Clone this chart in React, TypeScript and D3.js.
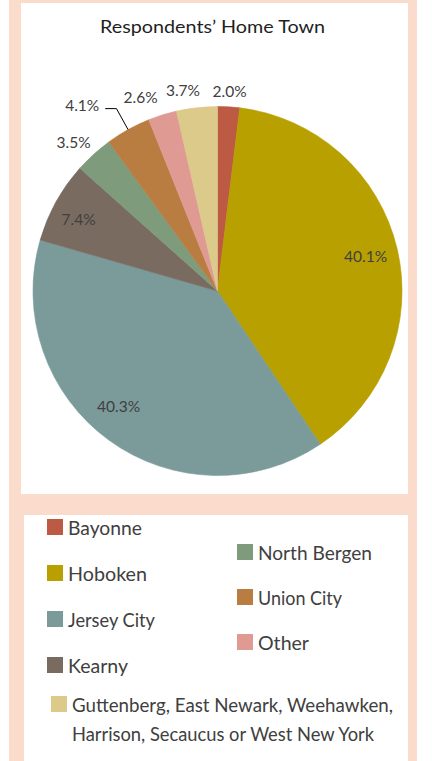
import React from "react";
import * as d3 from "d3";

const categories = [
  "Bayonne",
  "Hoboken",
  "Jersey City",
  "Kearny",
  "North Bergen",
  "Union City",
  "Other",
  "Guttenberg, East Newark, Weehawken, Harrison, Secaucus or West New York",
];
const values = [2.0, 40.1, 40.3, 7.4, 3.5, 4.1, 2.6, 3.7];
const valueLabels = ["2.0%", "40.1%", "40.3%", "7.4%", "3.5%", "4.1%", "2.6%", "3.7%"];
const colors = ["#BD5A43", "#B7A000", "#7B9A9A", "#7A6B61", "#7E9B7B", "#B97D41", "#DF9B93", "#DBCA89"];
const title = "Respondents\u2019 Home Town";

// label placement: radius factor, angle tweak (deg), leader line flag
const labelPlacement = [
  { rf: 1.084, da: 0, leader: false },
  { rf: 0.825, da: 0, leader: false },
  { rf: 0.822, da: 4.6, leader: false },
  { rf: 0.848, da: -1.5, leader: false },
  { rf: 1.123, da: -1.8, leader: false },
  { rf: 1.245, da: -7.1, leader: true },
  { rf: 1.129, da: -4.3, leader: false },
  { rf: 1.108, da: -3.3, leader: false },
];

// legend layout: position, text lines & widths
const legendLayout = [
  { x: 47, y: 519, lines: ["Bayonne"], widths: [74] },
  { x: 47, y: 565, lines: ["Hoboken"], widths: [79] },
  { x: 47, y: 611, lines: ["Jersey City"], widths: [87] },
  { x: 47, y: 657, lines: ["Kearny"], widths: [60] },
  { x: 237, y: 544, lines: ["North Bergen"], widths: [114] },
  { x: 237, y: 589, lines: ["Union City"], widths: [84] },
  { x: 237, y: 634, lines: ["Other"], widths: [51] },
  {
    x: 51,
    y: 696,
    lines: ["Guttenberg, East Newark, Weehawken,", "Harrison, Secaucus or West New York"],
    widths: [321, 302],
  },
];

const W = 432;
const H = 761;
const PEACH = "#FADBCC";
const cx = 217.5;
const cy = 291;
const R = 184.5;
const FONT = "Lato, 'Open Sans', sans-serif";

export default function App() {
  const pie = d3
    .pie<number>()
    .sort(null)
    .value((d) => d)
    .startAngle(0)
    .endAngle(2 * Math.PI);
  const arcs = pie(values);
  const arc = d3.arc<d3.PieArcDatum<number>>().innerRadius(0).outerRadius(R);

  const polar = (r: number, a: number): [number, number] => [r * Math.sin(a), -r * Math.cos(a)];

  return (
    <svg
      width={W}
      height={H}
      style={{ position: "absolute", left: 0, top: 0, display: "block" }}
      fontFamily={FONT}
    >
      <rect x={0} y={0} width={W} height={H} fill="#fff" />
      <rect x={9} y={0} width={408} height={H} fill={PEACH} />
      <rect x={21} y={3} width={387} height={491} fill="#fff" />
      <rect x={24} y={515} width={384} height={H - 515} fill="#fff" />

      <text
        x={212.5}
        y={33}
        textAnchor="middle"
        fontSize={16.7}
        fill="#1f1f1f"
        textLength={225}
        lengthAdjust="spacingAndGlyphs"
      >
        {title}
      </text>

      <g transform={`translate(${cx},${cy})`}>
        {arcs.map((a, i) => (
          <path key={i} d={arc(a) as string} fill={colors[i]} stroke={colors[i]} strokeWidth={0.6} />
        ))}
        {arcs.map((a, i) => {
          const p = labelPlacement[i];
          const mid = (a.startAngle + a.endAngle) / 2;
          const ang = mid + (p.da * Math.PI) / 180;
          const [lx, ly] = polar(R * p.rf, ang);
          let leader = null;
          if (p.leader) {
            const [sx, sy] = polar(R, mid);
            const [ex, ey] = polar(R + 24, mid);
            const endX = lx + 23;
            leader = (
              <polyline
                points={`${sx},${sy} ${ex},${ey} ${endX},${ey}`}
                fill="none"
                stroke="#000"
                strokeWidth={1}
              />
            );
          }
          return (
            <g key={"l" + i}>
              {leader}
              <text
                x={lx}
                y={ly}
                textAnchor="middle"
                dominantBaseline="central"
                fontSize={15.5}
                fill="#404040"
              >
                {valueLabels[i]}
              </text>
            </g>
          );
        })}
      </g>

      <g>
        {legendLayout.map((l, i) => (
          <g key={"lg" + i}>
            <rect x={l.x} y={l.y} width={16} height={16} fill={colors[i]} />
            {l.lines.map((line, j) => (
              <text
                key={j}
                x={l.x + 21}
                y={l.y + 15.5 + j * 29}
                fontSize={19.5}
                fill="#404040"
                textLength={l.widths[j]}
                lengthAdjust="spacingAndGlyphs"
              >
                {line}
              </text>
            ))}
          </g>
        ))}
      </g>
    </svg>
  );
}
